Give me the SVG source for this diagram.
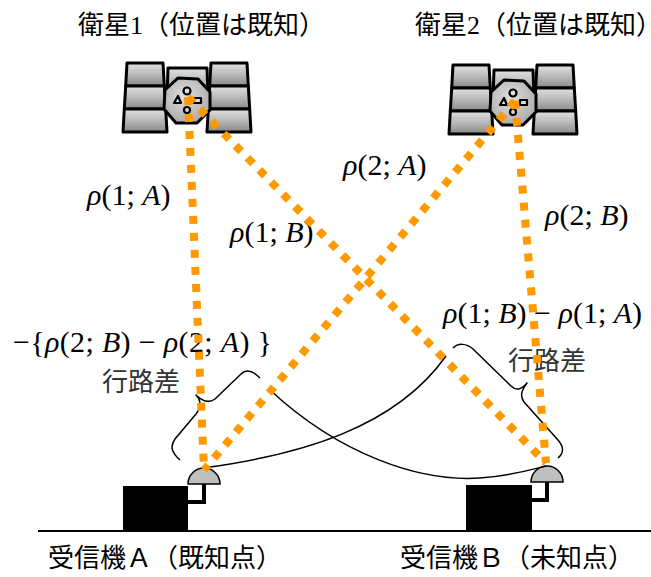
<svg xmlns="http://www.w3.org/2000/svg" width="651" height="577" viewBox="0 0 651 577">
  <style>
    .jp{font-family:"Noto Sans CJK JP",sans-serif;fill:#000;font-size:26px}
    .lbl{font-family:"Noto Sans CJK JP",sans-serif;fill:#333;font-size:26px}
    .math{font-family:"Liberation Serif","Times New Roman",serif;font-size:30px;fill:#000}
    .it{font-style:italic}
    .ray{fill:none;stroke:#ff9900;stroke-width:8;stroke-dasharray:8 9}
    .curve{fill:none;stroke:#000;stroke-width:1.5;stroke-linejoin:round}
    .cell{fill:url(#panelGrad);stroke:#000;stroke-width:3;stroke-linejoin:round}
    .mark{fill:#dedede;stroke:#000;stroke-width:2.2;stroke-linejoin:round}
  </style>
  <defs>
    <linearGradient id="panelGrad" x1="0" y1="0" x2="0" y2="1">
      <stop offset="0" stop-color="#e2e2e2"/>
      <stop offset="0.55" stop-color="#b4b4b4"/>
      <stop offset="1" stop-color="#888888"/>
    </linearGradient>
    <radialGradient id="diskGrad" cx="0.45" cy="0.4" r="0.65">
      <stop offset="0" stop-color="#e0e0e0"/>
      <stop offset="1" stop-color="#a8a8a8"/>
    </radialGradient>
    <!-- satellite: origin at the centre of the round body -->
    <g id="satellite">
      <g id="panel">
        <path class="cell" d="M-60,-38 L-24,-38 L-22.7,-15 L-61.3,-15 Z"/>
        <path class="cell" d="M-61.3,-15 L-22.7,-15 L-21.3,8 L-62.7,8 Z"/>
        <path class="cell" d="M-62.7,8 L-21.3,8 L-20,31 L-64,31 Z"/>
      </g>
      <use href="#panel" transform="scale(-1,1)"/>
      <path class="cell" d="M-19,-33 L20,-33 L21,-5 L-20,-5 Z"/>
      <polygon points="-9,-23 11,-22 23,-9 23,9 10,22 -11,22 -23,8 -22,-11" fill="url(#diskGrad)" stroke="#000" stroke-width="3" stroke-linejoin="round"/>
      <circle class="mark" cx="0" cy="-10" r="3.5"/>
      <polygon class="mark" points="-13,2 -9,-5 -6,2"/>
      <rect class="mark" x="7" y="-3" width="7" height="5"/>
      <circle class="mark" cx="0" cy="9" r="3"/>
    </g>
  </defs>

  <rect width="651" height="577" fill="#fff"/>

  <!-- ground -->
  <line x1="38" y1="531" x2="651" y2="531" stroke="#000" stroke-width="2"/>

  <g id="sat1">
    <use href="#satellite" x="187" y="101"/>
    <text class="jp" x="78" y="34">衛星<tspan font-family="Liberation Serif">1</tspan>（位置は既知）</text>
  </g>

  <g id="sat2">
    <use href="#satellite" x="513" y="103"/>
    <text class="jp" x="415" y="34">衛星<tspan font-family="Liberation Serif">2</tspan>（位置は既知）</text>
  </g>

  <g id="receiverA">
    <rect x="123" y="486" width="65" height="45" fill="#000"/>
    <polyline points="204,484 204,502 188,502" fill="none" stroke="#000" stroke-width="4"/>
    <path d="M188,484 A16,16 0 0 1 220,484 Z" fill="#bfbfbf" stroke="#000" stroke-width="1.5"/>
    <text class="jp" x="48" y="567">受信機Ａ（既知点）</text>
  </g>

  <g id="receiverB">
    <rect x="466" y="485" width="66" height="46" fill="#000"/>
    <polyline points="547,482 547,500 532,500" fill="none" stroke="#000" stroke-width="4"/>
    <path d="M531,482 A16,16 0 0 1 563,482 Z" fill="#bfbfbf" stroke="#000" stroke-width="1.5"/>
    <text class="jp" x="400" y="567">受信機Ｂ（未知点）</text>
  </g>

  <!-- range labels -->
  <g id="labels">
    <text class="math" x="87" y="205"><tspan class="it">ρ</tspan>(1; <tspan class="it">A</tspan>)</text>
    <text class="math" x="230" y="242"><tspan class="it">ρ</tspan>(1; <tspan class="it">B</tspan>)</text>
    <text class="math" x="343" y="175"><tspan class="it">ρ</tspan>(2; <tspan class="it">A</tspan>)</text>
    <text class="math" x="545" y="225"><tspan class="it">ρ</tspan>(2; <tspan class="it">B</tspan>)</text>
    <text class="math" x="443" y="323"><tspan class="it">ρ</tspan>(1; <tspan class="it">B</tspan>) − <tspan class="it">ρ</tspan>(1; <tspan class="it">A</tspan>)</text>
    <text class="math" x="13" y="352" textLength="259" lengthAdjust="spacing">−{<tspan class="it">ρ</tspan>(2; <tspan class="it">B</tspan>) − <tspan class="it">ρ</tspan>(2; <tspan class="it">A</tspan>) }</text>
    <text class="lbl" x="102" y="391">行路差</text>
    <text class="lbl" x="508" y="370">行路差</text>
  </g>

  <g id="connectors">
    <!-- equal-range arcs -->
    <path class="curve" d="M203,468 C300,455 395,428 446,356"/>
    <path class="curve" d="M270,390 C340,455 420,482 480,478 C510,476 530,470 546,466"/>
    <!-- path-difference braces -->
    <path class="curve" d="M180,460 C171,452 170,446 175,439 L196,414 C201,407 201,400 196,395 C202,401 208,404 215,399 L241,374 C246,369 252,370 260,378"/>
    <path class="curve" d="M453,348 C458,343 466,343 473,349 L511,386 C516,391 521,390 527,383 C521,391 520,396 524,402 L558,440 C564,447 564,453 558,458"/>
    <!-- signal paths -->
    <line class="ray" x1="188" y1="97" x2="204" y2="470"/>
    <line class="ray" x1="188" y1="97" x2="546" y2="463"/>
    <line class="ray" x1="515" y1="101" x2="204" y2="470"/>
    <line class="ray" x1="515" y1="101" x2="546" y2="463"/>
  </g>
</svg>
